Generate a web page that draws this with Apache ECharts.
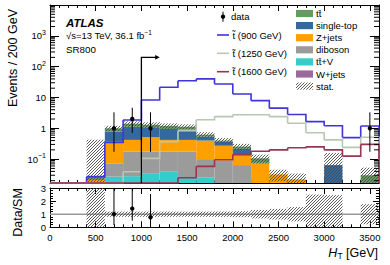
<!DOCTYPE html>
<html><head><meta charset="utf-8">
<script src="https://cdn.jsdelivr.net/npm/echarts@6/dist/echarts.min.js"></script>
<style>html,body{margin:0;padding:0;background:#fff}#c{width:390px;height:265px}</style>
</head><body><div id="c"></div>
<script>
// ---------------- data ----------------
const binEdges = [0,200,400,600,800,1000,1200,1400,1600,1800,2000,2200,2400,2600,2800,3000,3200,3400,3600];
// background processes, events / 200 GeV per bin
const ttbar     = [0,0,0.006,0.22,0.27,0.22,0.25,0.22,0.085,0.035,0.04,0.03,0,0,0,0,0,0.03];
const singleTop = [0,0,0,0.41,0.71,0.57,0.53,0.48,0.135,0.093,0.07,0,0,0,0,0.064,0,0];
const zjets     = [0,0,0.021,0.297,0.246,0.336,0.246,0.246,0.30,0.182,0.081,0.076,0.032,0.022,0.006,0,0,0];
const diboson   = [0,0,0,0.046,0.146,0.139,0.135,0.148,0.075,0.086,0.06,0,0,0,0,0,0,0];
const ttV       = [0,0,0,0.027,0.028,0.035,0.039,0.026,0.025,0.004,0.004,0,0,0,0,0,0,0];
const wjets     = [0,0,0,0,0,0,0,0,0,0,0,0,0,0,0,0,0,0];
const statErr   = [0,0,0.40,0.2,0.28,0.26,0.24,0.22,0.125,0.082,0.058,0.034,0.013,0.012,0.009,0.093,0,0.023];
// signals
const sig900  = [0,0,0.027,0.35,1.86,8.3,21.5,35,40,27.5,13,7.9,4.5,2.8,1.64,1.21,0.5,1.19];
const sig1250 = [0,0,0,0,0.039,0.106,0.37,0.84,1.9,2.4,2.75,2.75,2.4,1.45,0.72,0.42,0.24,0.51];
const sig1600 = [0,0,0,0,0,0,0,0.025,0.058,0.095,0.14,0.18,0.2,0.235,0.25,0.2,0.125,0.3];
// data
const dataX    = [700, 900, 1100, 3500];
const dataY    = [1, 2, 1, 1];
const dataLow  = [0.173, 0.708, 0.173, 0.173];
const dataHigh = [3.30, 4.64, 3.30, 3.30];
// SR cut
const cutValue = [1000];
const cutArrowEnd = [1200];
const cutArrowLevel = [200];
// tick labels
const xTickLabels = ['0','500','1000','1500','2000','2500','3000','3500'];
const ratioTickLabels = ['0','1','2','3'];

// ---------------- setup ----------------
const FONT = '"Liberation Sans", Arial, Helvetica, sans-serif';
const Y_MIN = 0.0168, Y_MAX = 1e4;
const R_MIN = 0, R_MAX = 3;
const nBins = binEdges.length - 1;
const clampLog = v => Math.min(Math.max(v, Y_MIN), Y_MAX);
const clampR = v => Math.min(Math.max(v, R_MIN), R_MAX);

const components = [
  {values: wjets,     color: '#9a6a9c'},
  {values: ttV,       color: '#35cccc'},
  {values: diboson,   color: '#9b9b9b'},
  {values: zjets,     color: '#ffa000'},
  {values: singleTop, color: '#35699e'},
  {values: ttbar,     color: '#659c62'}
];
const sigStyles = [
  {values: sig900,  color: '#3f35d8'},
  {values: sig1250, color: '#b8c8b4'},
  {values: sig1600, color: '#9a3450'}
];

function hatchLines(x0, y0, x1, y1, step, stroke, lw) {
  const ch = [];
  const cStart = Math.ceil((x0 + y0) / step) * step;
  for (let c = cStart; c <= x1 + y1; c += step) {
    const xa = Math.max(x0, c - y1), xb = Math.min(x1, c - y0);
    if (xb - xa > 0.05) ch.push({type: 'line', shape: {x1: xa, y1: c - xa, x2: xb, y2: c - xb}, style: {stroke: stroke, lineWidth: lw}});
  }
  return ch;
}
const HATCH_STEP = 3, HATCH_COL = '#4a4a4a', HATCH_LW = 0.9;

const total = new Array(nBins).fill(0);
const series = [];
components.forEach(c => {
  const items = [];
  for (let i = 0; i < nBins; i++) {
    const lo = total[i], hi = total[i] + c.values[i];
    total[i] = hi;
    if (c.values[i] > 0) items.push([binEdges[i], binEdges[i + 1], Math.max(lo, Y_MIN), Math.max(hi, Y_MIN)]);
  }
  series.push({
    type: 'custom', xAxisIndex: 0, yAxisIndex: 0, silent: true, data: items,
    encode: {x: [0, 1], y: [2, 3]},
    renderItem: (params, api) => {
      const lo = clampLog(api.value(2)), hi = clampLog(api.value(3));
      if (hi <= lo) return null;
      const p0 = api.coord([api.value(0), lo]), p1 = api.coord([api.value(1), hi]);
      return {type: 'rect', shape: {x: p0[0], y: p1[1], width: p1[0] - p0[0], height: p0[1] - p1[1]}, style: {fill: c.color}};
    }
  });
});

// stat band main
const statItems = [];
for (let i = 0; i < nBins; i++) {
  if (statErr[i] > 0) statItems.push([binEdges[i], binEdges[i + 1], Math.max(total[i] - statErr[i], Y_MIN), total[i] + statErr[i]]);
}
series.push({
  type: 'custom', xAxisIndex: 0, yAxisIndex: 0, silent: true, data: statItems,
  encode: {x: [0, 1], y: [2, 3]},
  renderItem: (params, api) => {
    const lo = clampLog(api.value(2)), hi = clampLog(api.value(3));
    if (hi <= lo) return null;
    const p0 = api.coord([api.value(0), lo]), p1 = api.coord([api.value(1), hi]);
    return {type: 'group', children: hatchLines(p0[0], p1[1], p1[0], p0[1], HATCH_STEP, HATCH_COL, HATCH_LW)};
  }
});

// signals
sigStyles.forEach(s => {
  const items = s.values.map((v, i) => [binEdges[i], binEdges[i + 1], Math.max(v, Y_MIN), Math.max(i + 1 < s.values.length ? s.values[i + 1] : 0, Y_MIN)]);
  series.push({
    type: 'custom', xAxisIndex: 0, yAxisIndex: 0, silent: true, data: items,
    encode: {x: [0, 1], y: [2, 3]},
    renderItem: (params, api) => {
      const a = api.coord([api.value(0), clampLog(api.value(2))]);
      const b = api.coord([api.value(1), clampLog(api.value(2))]);
      const c = api.coord([api.value(1), clampLog(api.value(3))]);
      return {type: 'polyline', shape: {points: [a, b, c]}, style: {stroke: s.color, lineWidth: 1.6, fill: 'none'}};
    }
  });
});

// data points main
series.push({
  type: 'custom', xAxisIndex: 0, yAxisIndex: 0, silent: true,
  data: dataX.map((x, k) => [x, dataY[k], dataLow[k], dataHigh[k]]),
  encode: {x: 0, y: [1, 2, 3]},
  renderItem: (params, api) => {
    const x = api.value(0);
    const p = api.coord([x, clampLog(api.value(1))]);
    const lo = api.coord([x, clampLog(api.value(2))]), hi = api.coord([x, clampLog(api.value(3))]);
    return {type: 'group', children: [
      {type: 'line', shape: {x1: p[0], y1: lo[1], x2: p[0], y2: hi[1]}, style: {stroke: '#000', lineWidth: 1}},
      {type: 'circle', shape: {cx: p[0], cy: p[1], r: 2.2}, style: {fill: '#000'}}
    ]};
  }
});

// cut arrow
series.push({
  type: 'custom', xAxisIndex: 0, yAxisIndex: 0, silent: true,
  data: cutValue.map((v, k) => [v, cutArrowEnd[k], cutArrowLevel[k]]),
  encode: {x: [0, 1], y: 2},
  renderItem: (params, api) => {
    const base = api.coord([api.value(0), Y_MIN]);
    const top = api.coord([api.value(0), api.value(2)]);
    const end = api.coord([api.value(1), api.value(2)]);
    return {type: 'group', children: [
      {type: 'polyline', shape: {points: [base, top, [end[0] - 3, end[1]]]}, style: {stroke: '#000', lineWidth: 1.3, fill: 'none'}},
      {type: 'polygon', shape: {points: [[end[0] - 4.5, end[1] - 2.3], [end[0], end[1]], [end[0] - 4.5, end[1] + 2.3]]}, style: {fill: '#000'}}
    ]};
  }
});

// log minor ticks (main panel, both sides)
series.push({
  type: 'custom', xAxisIndex: 0, yAxisIndex: 0, silent: true, data: [[0, 1]],
  renderItem: (params, api) => {
    const ch = [];
    const xL = api.coord([binEdges[0], 1])[0], xR = api.coord([binEdges[nBins], 1])[0];
    for (let k = -2; k <= 3; k++) for (let m = 2; m <= 9; m++) {
      const v = m * Math.pow(10, k);
      if (v <= Y_MIN || v >= Y_MAX) continue;
      const y = api.coord([0, v])[1];
      ch.push({type: 'line', shape: {x1: xL, y1: y, x2: xL + 5, y2: y}, style: {stroke: '#000', lineWidth: 1}});
      ch.push({type: 'line', shape: {x1: xR, y1: y, x2: xR - 5, y2: y}, style: {stroke: '#000', lineWidth: 1}});
    }
    return {type: 'group', children: ch};
  }
});

// ratio: line at 1
series.push({
  type: 'custom', xAxisIndex: 2, yAxisIndex: 2, silent: true, data: [[binEdges[0], binEdges[nBins], 1]],
  encode: {x: [0, 1], y: 2},
  renderItem: (params, api) => {
    const a = api.coord([api.value(0), api.value(2)]), b = api.coord([api.value(1), api.value(2)]);
    return {type: 'line', shape: {x1: a[0], y1: a[1], x2: b[0], y2: b[1]}, style: {stroke: '#9a9a9a', lineWidth: 1.6}};
  }
});
// ratio stat band
const ratioBand = [];
for (let i = 0; i < nBins; i++) {
  if (statErr[i] > 0 && total[i] > 0) {
    const rel = statErr[i] / total[i];
    ratioBand.push([binEdges[i], binEdges[i + 1], clampR(1 - rel), clampR(1 + rel)]);
  }
}
series.push({
  type: 'custom', xAxisIndex: 2, yAxisIndex: 2, silent: true, data: ratioBand,
  encode: {x: [0, 1], y: [2, 3]},
  renderItem: (params, api) => {
    const p0 = api.coord([api.value(0), api.value(2)]), p1 = api.coord([api.value(1), api.value(3)]);
    return {type: 'group', children: hatchLines(p0[0], p1[1], p1[0], p0[1], HATCH_STEP, HATCH_COL, HATCH_LW)};
  }
});
// ratio data
const ratioData = [];
dataX.forEach((x, k) => {
  const i = binEdges.findIndex((e, j) => j < nBins && x >= e && x < binEdges[j + 1]);
  const t = total[i];
  ratioData.push([x, dataY[k] / t, dataLow[k] / t, dataHigh[k] / t]);
});
series.push({
  type: 'custom', xAxisIndex: 2, yAxisIndex: 2, silent: true, data: ratioData,
  encode: {x: 0, y: 1},
  renderItem: (params, api) => {
    const x = api.value(0), r = api.value(1);
    const lo = clampR(api.value(2)), hi = clampR(api.value(3));
    const ch = [];
    const a = api.coord([x, lo]), b = api.coord([x, hi]);
    if (hi > lo) ch.push({type: 'line', shape: {x1: a[0], y1: a[1], x2: b[0], y2: b[1]}, style: {stroke: '#000', lineWidth: 1}});
    if (r >= R_MIN && r <= R_MAX) {
      const p = api.coord([x, r]);
      ch.push({type: 'circle', shape: {cx: p[0], cy: p[1], r: 2.2}, style: {fill: '#000'}});
    }
    return {type: 'group', children: ch};
  }
});

// ---------------- axes ----------------
const tickStyle = {color: '#000', width: 1};
function xAxisDef(grid, pos, labels) {
  return {
    type: 'value', gridIndex: grid, position: pos, min: binEdges[0], max: binEdges[nBins], interval: 500,
    axisLine: {show: true, onZero: false, lineStyle: {color: '#000', width: 1}},
    axisTick: {show: true, inside: true, length: 6, lineStyle: tickStyle},
    minorTick: {show: true, splitNumber: 5, length: 3, lineStyle: tickStyle},
    splitLine: {show: false},
    axisLabel: labels ? {show: true, fontSize: 9.5, color: '#000', fontFamily: FONT, margin: 5,
      formatter: v => { const k = xTickLabels.indexOf(String(v)); return k >= 0 ? xTickLabels[k] : ''; }} : {show: false}
  };
}
function supLabel(e) { return e === 0 ? '1' : e === 1 ? '10' : '10{sup|' + (e < 0 ? '\u2212' + (-e) : e) + '}'; }
function logAxisDef(pos, labels) {
  return {
    type: 'log', logBase: 10, gridIndex: 0, position: pos, min: Y_MIN, max: Y_MAX,
    axisLine: {show: true, onZero: false, lineStyle: {color: '#000', width: 1}},
    axisTick: {show: true, inside: true, length: 9, lineStyle: tickStyle},
    minorTick: {show: false}, splitLine: {show: false},
    axisLabel: labels ? {
      show: true, fontSize: 9.5, color: '#000', fontFamily: FONT, margin: 4, lineHeight: 14,
      formatter: v => { const e = Math.log10(v), r = Math.round(e); if (Math.abs(e - r) > 1e-6 || r >= 4) return ''; return supLabel(r); },
      rich: {sup: {fontSize: 7, fontFamily: FONT, color: '#000', verticalAlign: 'top', lineHeight: 8}}
    } : {show: false}
  };
}
function ratioAxisDef(pos, labels) {
  return {
    type: 'value', gridIndex: 1, position: pos, min: R_MIN, max: R_MAX, interval: 1,
    axisLine: {show: true, onZero: false, lineStyle: {color: '#000', width: 1}},
    axisTick: {show: true, inside: true, length: 6, lineStyle: tickStyle},
    minorTick: {show: true, splitNumber: 5, length: 3, lineStyle: tickStyle},
    splitLine: {show: false},
    axisLabel: labels ? {show: true, fontSize: 9.5, color: '#000', fontFamily: FONT, margin: 4,
      formatter: v => ratioTickLabels[Math.round(v)] || ''} : {show: false}
  };
}

// ---------------- legend / texts ----------------
const txt = (x, y, text, extra) => ({type: 'text', x: x, y: y, silent: true,
  style: Object.assign({text: text, fontFamily: FONT, fontSize: 9.5, fill: '#000', align: 'left', verticalAlign: 'middle'}, extra || {})});
const graphic = [
  txt(66, 23.3, 'ATLAS', {fontSize: 11.5, fontWeight: 'bold', fontStyle: 'italic'}),
  txt(66, 35, '\u221As=13 TeV, 36.1 fb{sup|\u22121}', {fontSize: 9.5, lineHeight: 13,
    rich: {sup: {fontSize: 6.5, fontFamily: FONT, fill: '#000', verticalAlign: 'top', lineHeight: 7}}}),
  txt(66, 49, 'SR800', {fontSize: 9.8}),
  // left column legend
  {type: 'line', silent: true, shape: {x1: 223, y1: 11.7, x2: 223, y2: 21.7}, style: {stroke: '#000', lineWidth: 1}},
  {type: 'circle', silent: true, shape: {cx: 223, cy: 16.7, r: 2.2}, style: {fill: '#000'}},
  txt(231, 16.7, 'data'),
  {type: 'line', silent: true, shape: {x1: 217, y1: 35, x2: 229, y2: 35}, style: {stroke: sigStyles[0].color, lineWidth: 1.6}},
  txt(232.5, 35, 't\u0303 (900 GeV)'),
  {type: 'line', silent: true, shape: {x1: 217, y1: 53.3, x2: 229, y2: 53.3}, style: {stroke: sigStyles[1].color, lineWidth: 1.6}},
  txt(232.5, 53.3, 't\u0303 (1250 GeV)'),
  {type: 'line', silent: true, shape: {x1: 217, y1: 71.7, x2: 229, y2: 71.7}, style: {stroke: sigStyles[2].color, lineWidth: 1.6}},
  txt(232.5, 71.7, 't\u0303 (1600 GeV)'),
  // axis titles
  {type: 'text', x: 12.5, y: 58, rotation: Math.PI / 2, silent: true,
    style: {text: 'Events / 200 GeV', fontFamily: FONT, fontSize: 12.5, fill: '#000', align: 'center', verticalAlign: 'middle'}},
  {type: 'text', x: 18, y: 212.5, rotation: Math.PI / 2, silent: true,
    style: {text: 'Data/SM', fontFamily: FONT, fontSize: 12.5, fill: '#000', align: 'center', verticalAlign: 'middle'}},
  {type: 'text', x: 378, y: 252.5, silent: true,
    style: {text: '{i|H}{sub|T} [GeV]', fontFamily: FONT, fontSize: 12.5, fill: '#000', align: 'right', verticalAlign: 'middle', lineHeight: 16,
      rich: {i: {fontSize: 12.5, fontStyle: 'italic', fontFamily: FONT, fill: '#000', lineHeight: 16},
             sub: {fontSize: 8.5, fontFamily: FONT, fill: '#000', verticalAlign: 'bottom', lineHeight: 11}}}}
];
const legendRight = [
  {label: 't\u0074\u0304', color: components[5].color},
  {label: 'single-top', color: components[4].color},
  {label: 'Z+jets', color: components[3].color},
  {label: 'diboson', color: components[2].color},
  {label: 't\u0074\u0304+V', color: components[1].color},
  {label: 'W+jets', color: components[0].color},
  {label: 'stat.', color: null}
];
legendRight.forEach((e, k) => {
  const yc = 13.5 + k * 12.1;
  if (e.color) graphic.push({type: 'rect', silent: true, shape: {x: 296, y: yc - 3.6, width: 17, height: 7.2}, style: {fill: e.color}});
  else graphic.push({type: 'group', silent: true, children: hatchLines(296, yc - 3.6, 313, yc + 3.6, HATCH_STEP, HATCH_COL, HATCH_LW)});
  graphic.push(txt(316, yc, e.label));
});

const chart = echarts.init(document.getElementById('c'), null, {renderer: 'svg', width: 390, height: 265});
chart.setOption({
  animation: false,
  backgroundColor: '#fff',
  grid: [
    {left: 50, top: 5, width: 329, height: 178, containLabel: false},
    {left: 50, top: 188, width: 329, height: 39.3, containLabel: false}
  ],
  xAxis: [xAxisDef(0, 'bottom', false), xAxisDef(0, 'top', false), xAxisDef(1, 'bottom', true), xAxisDef(1, 'top', false)],
  yAxis: [logAxisDef('left', true), logAxisDef('right', false), ratioAxisDef('left', true), ratioAxisDef('right', false)],
  series: series,
  graphic: graphic
});
</script></body></html>
